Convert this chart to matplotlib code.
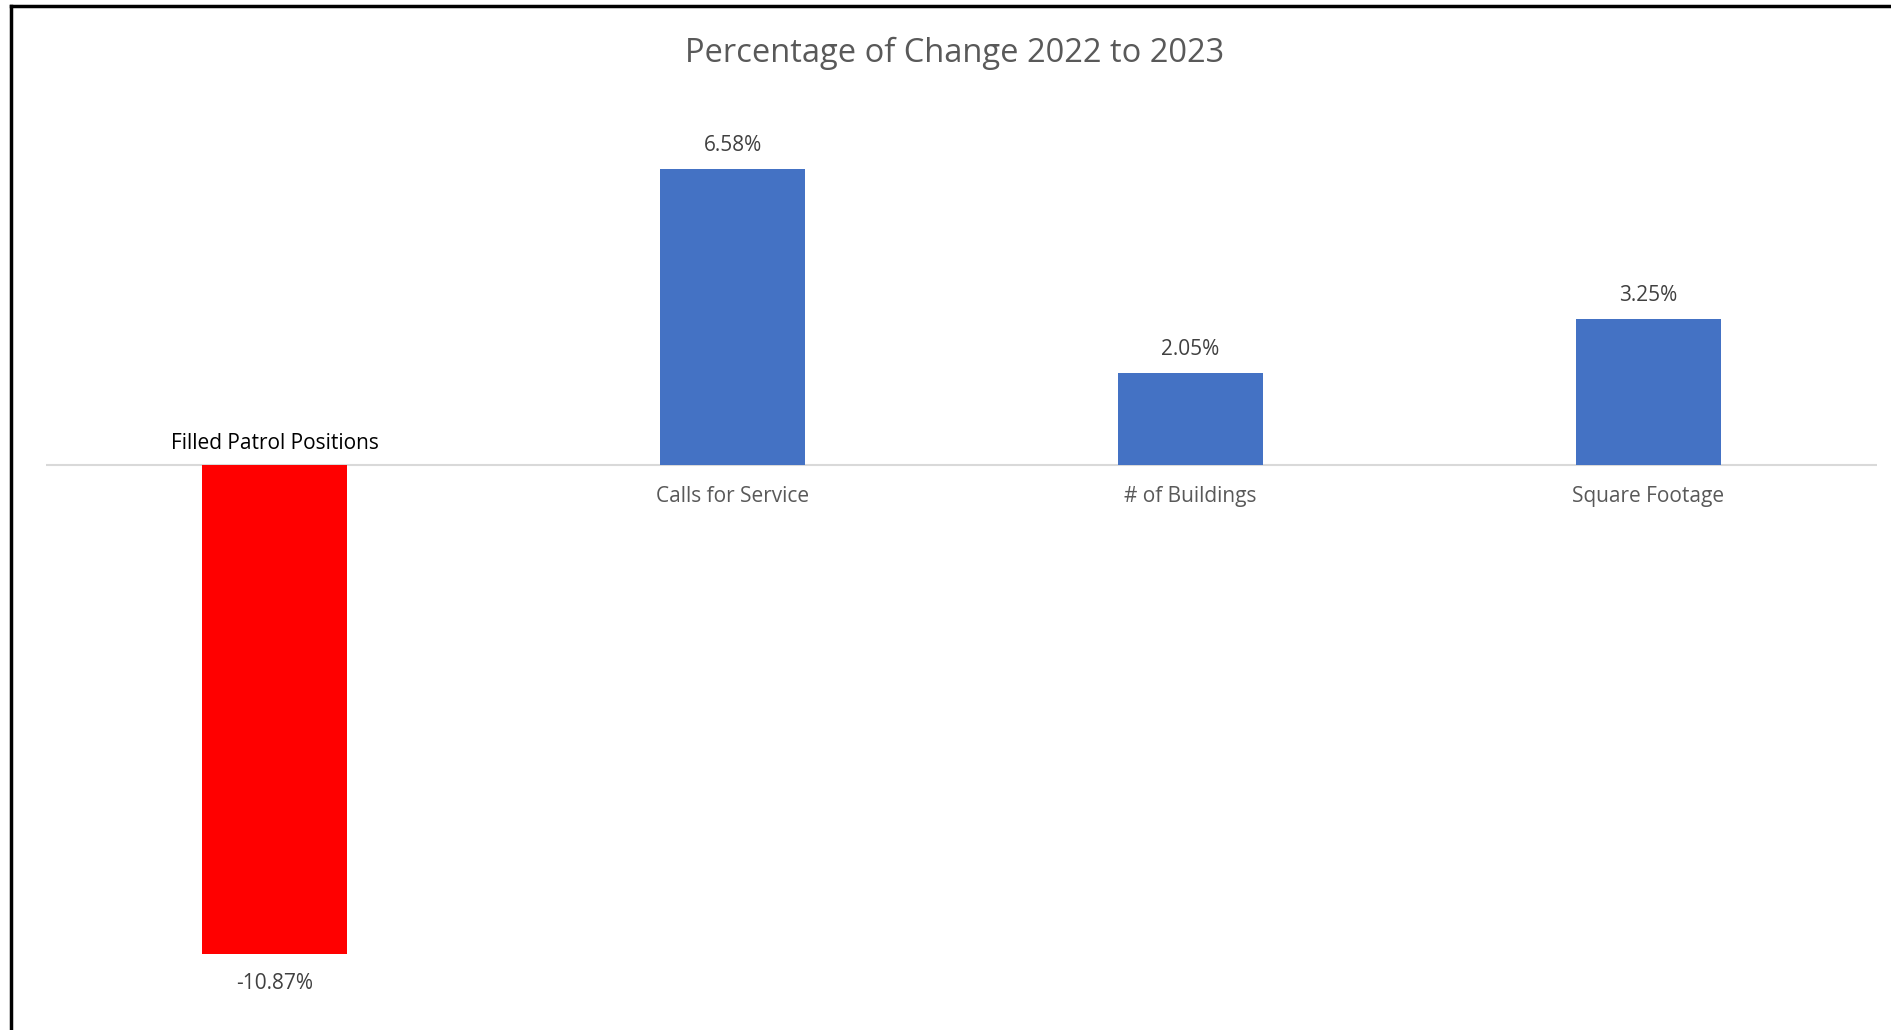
import matplotlib.pyplot as plt
import numpy as np

# Chart data
categories = ['Filled Patrol Positions', 'Calls for Service', '# of Buildings', 'Square Footage']
changes = [-10.87, 6.58, 2.05, 3.25]
value_labels = ['-10.87%', '6.58%', '2.05%', '3.25%']
bar_colors = ['#FF0000', '#4472C4', '#4472C4', '#4472C4']

plt.rcParams['font.family'] = ['Open Sans', 'DejaVu Sans']

fig = plt.figure(figsize=(18.91, 10.30), dpi=100)
ax = fig.add_axes([0.0243, 0.0245, 0.9683, 0.8738])

x = np.arange(len(categories))
ax.bar(x, changes, width=0.317, color=bar_colors, zorder=2)
ax.axhline(0, color='#D9D9D9', linewidth=1.5, zorder=1)

ax.set_xlim(-0.5, 3.5)
ax.set_ylim(-12, 8)
ax.axis('off')

# data labels and category labels
for xi, v, lab, cat in zip(x, changes, value_labels, categories):
    if v >= 0:
        ax.annotate(lab, (xi, v), xytext=(0, 23), textcoords='offset pixels',
                    ha='center', va='center', fontsize=15, color='#404040')
        ax.annotate(cat, (xi, 0), xytext=(0, -32), textcoords='offset pixels',
                    ha='center', va='center', fontsize=15, color='#595959')
    else:
        ax.annotate(lab, (xi, v), xytext=(0, -30), textcoords='offset pixels',
                    ha='center', va='center', fontsize=15, color='#404040')
        ax.annotate(cat, (xi, 0), xytext=(0, 21), textcoords='offset pixels',
                    ha='center', va='center', fontsize=15, color='#000000')

fig.text(0.505, 1 - 53.5 / 1030, 'Percentage of Change 2022 to 2023',
         ha='center', va='center', fontsize=23.5, color='#595959')

# chart frame: only top and left edges are visible
fig.add_artist(plt.Line2D([11 / 1891, 11 / 1891], [0, 1 - 6 / 1030],
                          color='black', linewidth=2.5))
fig.add_artist(plt.Line2D([11 / 1891, 1], [1 - 6 / 1030, 1 - 6 / 1030],
                          color='black', linewidth=2.5))

fig.savefig('out.png', dpi=100)
